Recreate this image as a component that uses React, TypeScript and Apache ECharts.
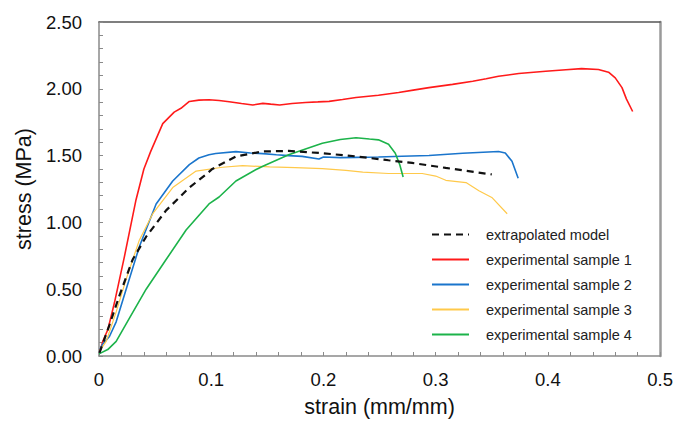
import React, { useEffect, useRef } from "react";
import * as echarts from "echarts";

const modelStrain = [0.0004, 0.0093, 0.0182, 0.03, 0.042, 0.0598, 0.0716, 0.0805, 0.0953, 0.101, 0.122, 0.146, 0.169, 0.199, 0.229, 0.258, 0.279, 0.309, 0.35];
const modelStress = [0.023, 0.232, 0.452, 0.722, 0.893, 1.09, 1.187, 1.261, 1.359, 1.4, 1.494, 1.531, 1.535, 1.518, 1.494, 1.465, 1.445, 1.408, 1.359];

const s1Strain = [0.001, 0.0034, 0.008, 0.0138, 0.0227, 0.033, 0.04, 0.046, 0.0568, 0.067, 0.073, 0.0805, 0.089, 0.098, 0.107, 0.116, 0.127, 0.137, 0.146, 0.153, 0.161, 0.172, 0.184, 0.195, 0.205, 0.217, 0.229, 0.249, 0.267, 0.28, 0.294, 0.315, 0.333, 0.345, 0.356, 0.374, 0.398, 0.416, 0.43, 0.445, 0.454, 0.46, 0.466, 0.47, 0.4755];
const s1Stress = [0.04, 0.11, 0.2, 0.4, 0.746, 1.17, 1.4, 1.53, 1.739, 1.825, 1.854, 1.905, 1.915, 1.918, 1.912, 1.903, 1.89, 1.879, 1.891, 1.885, 1.879, 1.89, 1.898, 1.902, 1.906, 1.92, 1.935, 1.952, 1.972, 1.99, 2.009, 2.033, 2.057, 2.075, 2.094, 2.114, 2.131, 2.143, 2.151, 2.145, 2.124, 2.082, 2.009, 1.923, 1.83];

const s2Strain = [0.001, 0.0034, 0.0093, 0.0153, 0.0242, 0.036, 0.0509, 0.0657, 0.0805, 0.089, 0.098, 0.104, 0.122, 0.135, 0.146, 0.158, 0.169, 0.181, 0.196, 0.2, 0.215, 0.229, 0.249, 0.27, 0.294, 0.324, 0.356, 0.362, 0.368, 0.3735];
const s2Stress = [0.05, 0.09, 0.146, 0.256, 0.5, 0.82, 1.138, 1.31, 1.432, 1.482, 1.506, 1.516, 1.53, 1.52, 1.515, 1.506, 1.5, 1.494, 1.474, 1.49, 1.485, 1.487, 1.489, 1.495, 1.501, 1.518, 1.531, 1.52, 1.457, 1.33];

const s3Strain = [0.0004, 0.0064, 0.0153, 0.0242, 0.036, 0.0479, 0.0657, 0.0865, 0.11, 0.128, 0.152, 0.175, 0.199, 0.22, 0.235, 0.258, 0.288, 0.3, 0.309, 0.327, 0.3385, 0.35, 0.3637];
const s3Stress = [0.035, 0.109, 0.33, 0.575, 0.869, 1.065, 1.261, 1.384, 1.413, 1.425, 1.415, 1.41, 1.403, 1.39, 1.376, 1.366, 1.366, 1.347, 1.315, 1.298, 1.237, 1.187, 1.065];

const s4Strain = [0, 0.0078, 0.0153, 0.027, 0.042, 0.0598, 0.0776, 0.098, 0.107, 0.122, 0.14, 0.146, 0.169, 0.199, 0.215, 0.229, 0.241, 0.249, 0.258, 0.264, 0.268, 0.271];
const s4Stress = [0.016, 0.048, 0.109, 0.281, 0.5, 0.722, 0.943, 1.138, 1.19, 1.31, 1.396, 1.42, 1.506, 1.592, 1.62, 1.634, 1.624, 1.618, 1.585, 1.518, 1.432, 1.34];

const seriesNames = ["extrapolated model", "experimental sample 1", "experimental sample 2", "experimental sample 3", "experimental sample 4"];
const xTitle = "strain (mm/mm)";
const yTitle = "stress (MPa)";

const zip = (xs: number[], ys: number[]) => xs.map((x, i) => [x, ys[i]]);

const FONT = "'Liberation Sans', Arial, sans-serif";

export default function App() {
  const ref = useRef<HTMLDivElement>(null);
  useEffect(() => {
    if (!ref.current) return;
    const chart = echarts.init(ref.current, undefined, { renderer: "svg" });
    const lineSeries = (name: string, data: number[][], color: string, width: number, type: any = "solid", z = 2) => ({
      name,
      type: "line",
      data,
      showSymbol: false,
      symbol: "none",
      smooth: false,
      z,
      lineStyle: { color, width, type },
      itemStyle: { color },
    });
    chart.setOption({
      animation: false,
      backgroundColor: "#ffffff",
      textStyle: { fontFamily: FONT },
      grid: { left: 99, right: 14.5, top: 22, bottom: 61.5, containLabel: false },
      legend: {
        data: seriesNames,
        orient: "vertical",
        left: 426,
        top: 222,
        itemWidth: 37,
        itemHeight: 14,
        itemGap: 10,
        itemStyle: { color: "transparent", borderWidth: 0, opacity: 0 },
        textStyle: { fontFamily: FONT, fontSize: 14.5, color: "#222", padding: [0, 0, 0, 12] },
      },
      xAxis: [
        {
          type: "value",
          min: 0,
          max: 0.5,
          interval: 0.1,
          name: xTitle,
          nameLocation: "middle",
          nameGap: 40,
          nameTextStyle: { fontFamily: FONT, fontSize: 21.5, color: "#111" },
          axisLine: { show: true, onZero: false, lineStyle: { color: "#8a8a8a", width: 1.5 } },
          axisTick: { show: true, inside: true, length: 4, lineStyle: { color: "#8a8a8a" } },
          minorTick: { show: true, splitNumber: 5, length: 4, lineStyle: { color: "#8a8a8a" } },
          splitLine: { show: false },
          axisLabel: {
            fontFamily: FONT,
            fontSize: 18.5,
            color: "#111",
            margin: 14,
            formatter: (v: number) => (v === 0 ? "0" : v.toFixed(1)),
          },
        },
        {
          type: "value",
          position: "top",
          min: 0,
          max: 0.5,
          axisLine: { show: true, onZero: false, lineStyle: { color: "#555", width: 1.5 } },
          axisTick: { show: false },
          axisLabel: { show: false },
          splitLine: { show: false },
        },
      ],
      yAxis: [
        {
          type: "value",
          min: 0,
          max: 2.5,
          interval: 0.5,
          name: yTitle,
          nameLocation: "middle",
          nameGap: 64,
          nameTextStyle: { fontFamily: FONT, fontSize: 21.5, color: "#111" },
          axisLine: { show: true, onZero: false, lineStyle: { color: "#8a8a8a", width: 1.5 } },
          axisTick: { show: true, inside: true, length: 4, lineStyle: { color: "#8a8a8a" } },
          minorTick: { show: true, splitNumber: 5, length: 4, lineStyle: { color: "#8a8a8a" } },
          splitLine: { show: false },
          axisLabel: {
            fontFamily: FONT,
            fontSize: 18.5,
            color: "#111",
            margin: 17,
            formatter: (v: number) => v.toFixed(2),
          },
        },
        {
          type: "value",
          position: "right",
          min: 0,
          max: 2.5,
          axisLine: { show: true, onZero: false, lineStyle: { color: "#9a9a9a", width: 2.5 } },
          axisTick: { show: false },
          axisLabel: { show: false },
          splitLine: { show: false },
        },
      ],
      series: [
        lineSeries(seriesNames[1], zip(s1Strain, s1Stress), "#ff1a1a", 1.6),
        lineSeries(seriesNames[2], zip(s2Strain, s2Stress), "#1a75cc", 1.6),
        lineSeries(seriesNames[3], zip(s3Strain, s3Stress), "#ffc94a", 1.2),
        lineSeries(seriesNames[4], zip(s4Strain, s4Stress), "#1cb34a", 1.6),
        lineSeries(seriesNames[0], zip(modelStrain, modelStress), "#111111", 2.2, [7, 5], 3),
      ],
    });
    return () => chart.dispose();
  }, []);
  return (
    <div
      ref={ref}
      style={{ position: "fixed", left: 0, top: 0, width: 676, height: 423, background: "#fff" }}
    />
  );
}
